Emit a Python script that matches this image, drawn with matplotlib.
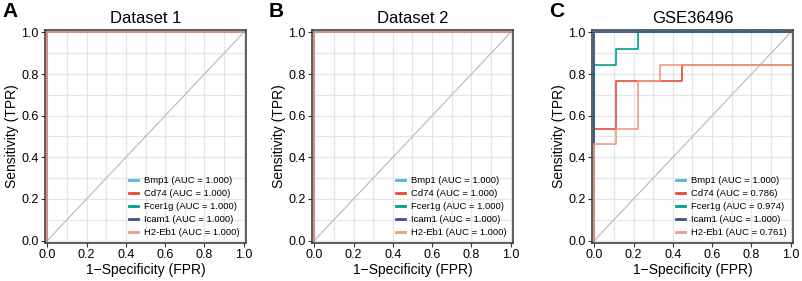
import numpy as np
import matplotlib.pyplot as plt

plt.rcParams['font.family'] = ['Liberation Sans', 'DejaVu Sans']

genes = ['Bmp1', 'Cd74', 'Fcer1g', 'Icam1', 'H2-Eb1']
colors = ['#4DBBD5', '#E64B35', '#00A087', '#3C5488', '#F39B7F']
titles = ['Dataset 1', 'Dataset 2', 'GSE36496']
letters = ['A', 'B', 'C']

# ROC step points (FPR, TPR) per gene for each dataset
perfect = ([0, 0, 1], [0, 1, 1])
roc_d1 = [perfect] * 5
roc_d2 = [perfect] * 5
roc_gse = [
    ([0, 0, 1], [0, 1, 1]),
    ([0, 0, 0.111, 0.111, 0.444, 0.444, 1],
     [0, 0.538, 0.538, 0.769, 0.769, 0.846, 0.846]),
    ([0, 0, 0.111, 0.111, 0.222, 0.222, 1],
     [0, 0.846, 0.846, 0.923, 0.923, 1, 1]),
    ([0, 0, 1], [0, 1, 1]),
    ([0, 0, 0.111, 0.111, 0.222, 0.222, 0.333, 0.333, 1],
     [0, 0.462, 0.462, 0.538, 0.538, 0.769, 0.769, 0.846, 0.846]),
]
auc_d1 = [1.000, 1.000, 1.000, 1.000, 1.000]
auc_d2 = [1.000, 1.000, 1.000, 1.000, 1.000]
auc_gse = [1.000, 0.786, 0.974, 1.000, 0.761]

rocs = [roc_d1, roc_d2, roc_gse]
aucs = [auc_d1, auc_d2, auc_gse]

fig = plt.figure(figsize=(8.03, 2.81), dpi=100)
lefts = [45, 312, 592]
W, H = 803, 281

for i in range(3):
    ax = fig.add_axes([lefts[i] / W, 38 / H, 201 / W, 213 / H])
    ax.set_xlim(-0.012, 1.012)
    ax.set_ylim(-0.012, 1.012)
    ax.set_xticks(np.arange(0, 1.01, 0.2))
    ax.set_yticks(np.arange(0, 1.01, 0.2))
    ax.set_xticks(np.arange(0.1, 1, 0.2), minor=True)
    ax.set_yticks(np.arange(0.1, 1, 0.2), minor=True)
    ax.grid(True, which='both', color='#E5E5E5', linewidth=0.9)
    ax.set_axisbelow(True)
    ax.tick_params(which='minor', length=0)
    ax.tick_params(which='major', length=3, width=0.8, color='#333333',
                   labelsize=9, pad=1.5)
    for s in ax.spines.values():
        s.set_color('#333333')
        s.set_linewidth(1.1)
    ax.plot([0, 1], [0, 1], color='#BEBEBE', linewidth=0.9)
    for g in range(5):
        x, y = rocs[i][g]
        ax.plot(x, y, color=colors[g], linewidth=1.2,
                label='%s (AUC = %.3f)' % (genes[g], aucs[i][g]))
    leg = ax.legend(loc='lower right', frameon=False, fontsize=6.8,
                    handlelength=0.9, handletextpad=0.7, labelspacing=0.42,
                    borderaxespad=0.25, borderpad=0.4)
    for h in leg.get_lines():
        h.set_linewidth(2)
    ax.set_xticklabels(['0.0', '0.2', '0.4', '0.6', '0.8', '1.0'])
    ax.set_yticklabels(['0.0', '0.2', '0.4', '0.6', '0.8', '1.0'])
    ax.set_xlabel('1\u2212Specificity (FPR)', fontsize=10, labelpad=1)
    ax.set_ylabel('Sensitivity (TPR)', fontsize=10, labelpad=2)
    ax.set_title(titles[i], fontsize=12, pad=5)
    fig.text((lefts[i] - 43) / W, 1 - 2 / H, letters[i], fontsize=15,
             fontweight='bold', va='top', ha='left')

fig.savefig('out.png', dpi=100)
